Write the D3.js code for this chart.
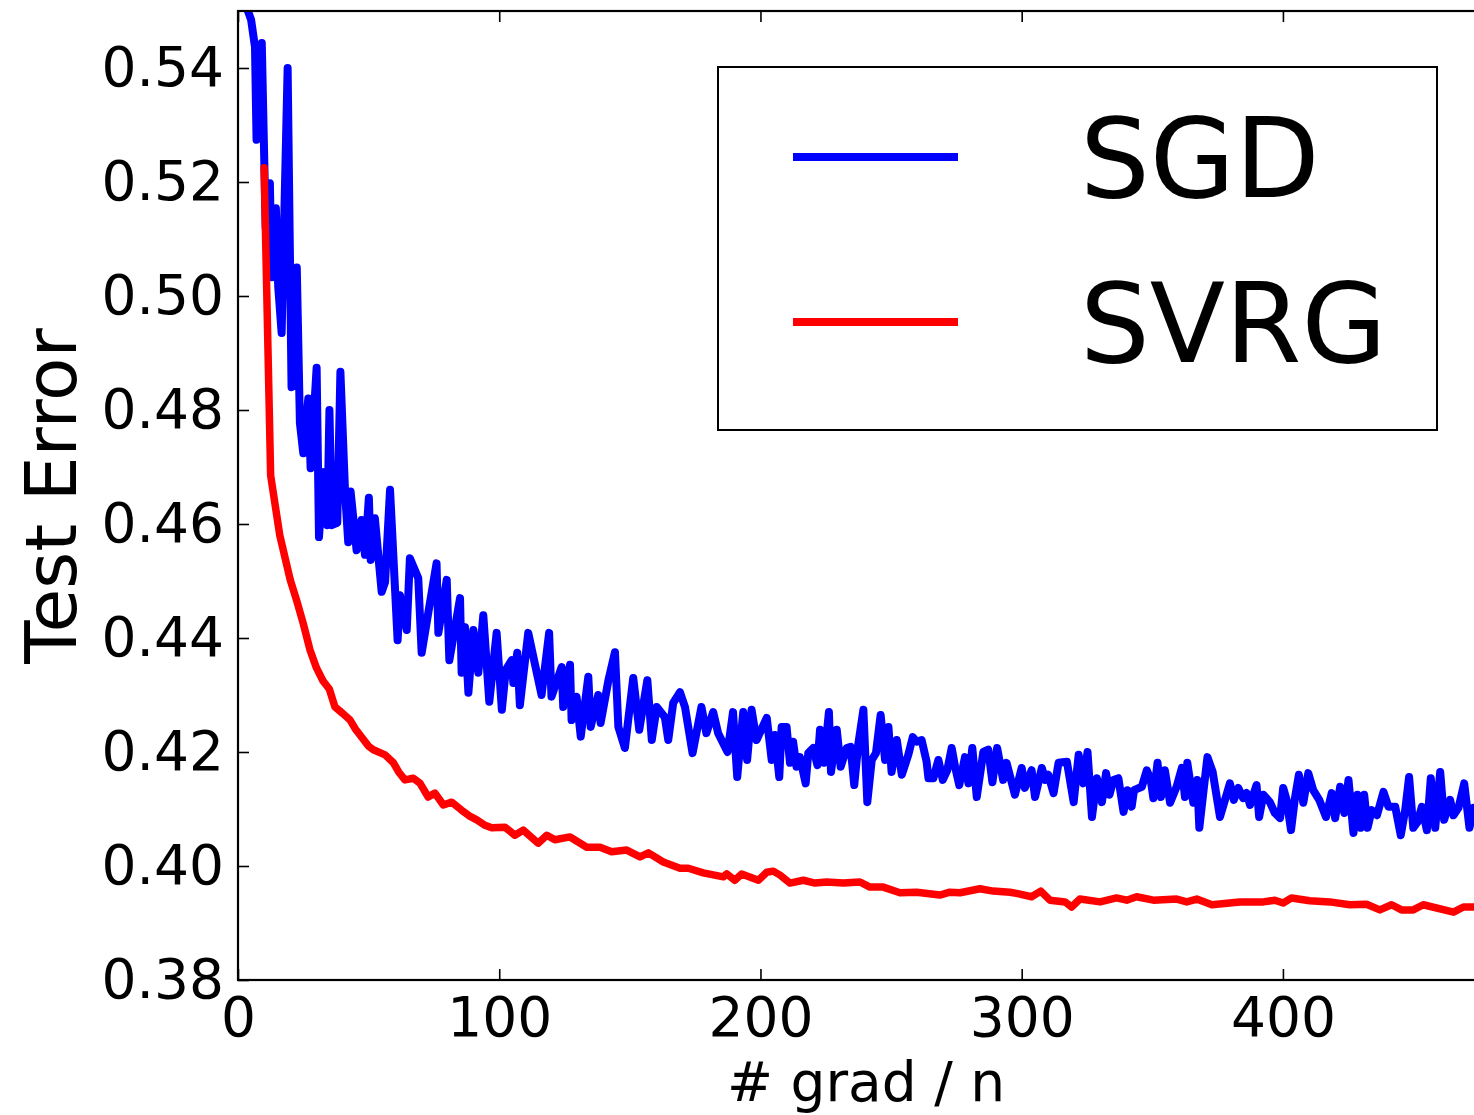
<!DOCTYPE html>
<html>
<head>
<meta charset="utf-8">
<script src="https://cdn.jsdelivr.net/npm/d3@7"></script>
<style>
  html, body { margin: 0; padding: 0; background: #ffffff; overflow: hidden; }
  svg { display: block; font-family: "DejaVu Sans", sans-serif; }
</style>
</head>
<body>
<svg id="chart" width="1474" height="1115"></svg>
<script>
// ---- data ----
const seriesNames = ["SGD", "SVRG"];
const seriesColors = ["#0000ff", "#ff0000"];

const sgdX = [0, 3, 5, 6.5, 7.1, 9.1, 10.6, 12.2, 12.9, 14.5, 15.4, 16.7, 19.0, 20.5, 22.5, 23.7, 25.0, 26.9, 27.8, 30.1,
  31.0, 32.7, 34.2, 35.0, 35.9, 38.0, 39.2, 41.0, 42.2, 43.1, 45.4, 47.3, 48.6, 50.1, 50.8, 52.4, 55.0, 56.3, 58.2, 61.1,
  62.0, 63.3, 64.6, 65.8, 69.0, 70.3, 72.9, 76.0, 76.7, 79.9, 80.9, 83.1, 85.0, 85.6, 86.9, 88.2, 90.1, 92.0, 93.9, 96.2,
  99.0, 101.0, 102.5, 104.8, 105.4, 106.9, 107.9, 111.1, 116.2, 119.1, 120.0, 123.9, 124.5, 127.1, 127.7, 129.6, 131.2, 134.1, 135.0, 137.9,
  138.8, 141.8, 144.3, 145.6, 148.1, 151.3, 153.6, 156.7, 158.4, 160.3, 163.4, 164.7, 166.6, 169.2, 171.1, 174.0, 177.4, 179.3, 181.9, 183.8,
  187.4, 189.5, 191.1, 193.4, 194.9, 196.6, 198.5, 202.4, 204.3, 205.5, 207.2, 208.1, 210.0, 211.3, 212.5, 213.8, 215.1, 217.3, 218.3, 220.2,
  221.8, 222.8, 224.3, 226.2, 227.0, 229.2, 230.7, 233.0, 234.5, 235.9, 237.4, 239.4, 240.9, 242.6, 244.2, 246.0, 247.7, 249.0, 250.2, 252.2,
  254.1, 256.6, 258.3, 259.8, 261.7, 263.6, 264.3, 266.2, 268.1, 269.8, 271.5, 273.2, 274.5, 276.1, 278.3, 279.6, 281.1, 282.8, 285.3, 287.2,
  288.8, 290.6, 292.9, 294.2, 297.4, 300.0, 301.2, 303.8, 305.1, 307.7, 309.0, 310.2, 312.2, 314.1, 317.3, 319.9, 321.8, 323.6, 325.2, 326.9,
  328.8, 330.7, 332.3, 333.6, 335.1, 337.0, 339.0, 340.5, 342.1, 343.0, 346.0, 347.9, 349.4, 350.4, 352.0, 353.3, 354.8, 356.8, 359.3, 361.3,
  362.5, 363.4, 365.7, 367.2, 368.0, 369.5, 371.1, 373.1, 375.9, 379.7, 381.2, 382.9, 384.8, 386.1, 387.4, 389.9, 390.9, 392.5, 395.0, 396.9,
  398.9, 400.1, 401.4, 403.1, 404.6, 406.1, 407.8, 409.7, 411.6, 413.9, 416.5, 418.7, 420.0, 421.9, 423.5, 425.1, 427.0, 428.5, 429.8, 431.1,
  432.4, 434.0, 436.0, 438.5, 440.4, 443.0, 445.1, 446.8, 448.3, 449.9, 451.5, 453.2, 455.1, 456.6, 458.3, 460.2, 461.7, 464.0, 465.3, 467.2,
  469.4, 471.4, 473.0, 474.5];
const sgdY = [0.575, 0.551, 0.5485, 0.5437, 0.5274, 0.5444, 0.512, 0.5198, 0.5033, 0.5154, 0.5016, 0.4935, 0.540, 0.484, 0.505, 0.4777, 0.4724, 0.482, 0.4698, 0.4874,
  0.4577, 0.4691, 0.4598, 0.480, 0.4598, 0.4602, 0.4867, 0.4654, 0.4568, 0.4657, 0.4554, 0.4607, 0.4546, 0.4646, 0.4537, 0.461, 0.4481, 0.4498, 0.466, 0.4396,
  0.4475, 0.4444, 0.4414, 0.454, 0.4505, 0.4374, 0.4446, 0.4531, 0.4409, 0.4502, 0.4361, 0.4419, 0.447, 0.4339, 0.4419, 0.4304, 0.4414, 0.4339, 0.444, 0.4288,
  0.4409, 0.4274, 0.4344, 0.4361, 0.4321, 0.4374, 0.4282, 0.4409, 0.430, 0.4409, 0.4297, 0.4349, 0.4279, 0.4353, 0.4256, 0.4297, 0.4227, 0.4332, 0.4244, 0.430,
  0.4251, 0.4326, 0.4375, 0.4244, 0.4207, 0.433, 0.4239, 0.4326, 0.4221, 0.4279, 0.4261, 0.4221, 0.4286, 0.4305, 0.4279, 0.4198, 0.4279, 0.4233, 0.427, 0.4233,
  0.420, 0.427, 0.4156, 0.427, 0.4186, 0.4274, 0.4221, 0.426, 0.4186, 0.423, 0.4156, 0.4244, 0.4244, 0.4181, 0.4218, 0.4174, 0.4191, 0.4145, 0.4198, 0.4207,
  0.4177, 0.4239, 0.4181, 0.427, 0.4165, 0.4239, 0.4174, 0.4207, 0.4209, 0.4142, 0.4212, 0.4274, 0.4112, 0.4186, 0.4198, 0.4265, 0.4186, 0.4244, 0.4165, 0.4221,
  0.416, 0.4195, 0.4226, 0.4218, 0.4221, 0.4183, 0.4154, 0.4154, 0.4186, 0.4151, 0.4168, 0.4207, 0.4174, 0.4142, 0.4191, 0.4145, 0.4207, 0.4121, 0.420, 0.4204,
  0.4147, 0.4207, 0.4151, 0.4181, 0.4125, 0.4172, 0.4137, 0.4168, 0.4121, 0.4172, 0.4151, 0.416, 0.4128, 0.4181, 0.4183, 0.4112, 0.4195, 0.4145, 0.420, 0.4086,
  0.4154, 0.4112, 0.4163, 0.4125, 0.4151, 0.4154, 0.4095, 0.4133, 0.4104, 0.4133, 0.4139, 0.4168, 0.4151, 0.4119, 0.4181, 0.4121, 0.4168, 0.4111, 0.4139, 0.4172,
  0.4121, 0.4181, 0.4111, 0.4151, 0.4067, 0.4128, 0.4191, 0.4165, 0.4086, 0.4145, 0.4116, 0.4137, 0.4119, 0.4128, 0.4107, 0.4142, 0.4086, 0.4125, 0.4112, 0.4093,
  0.4084, 0.4137, 0.4116, 0.4063, 0.4119, 0.416, 0.4111, 0.4163, 0.4133, 0.4116, 0.4086, 0.4128, 0.4084, 0.4139, 0.4093, 0.4151, 0.4058, 0.4125, 0.4067, 0.4125,
  0.4067, 0.4098, 0.4089, 0.413, 0.4104, 0.4104, 0.4054, 0.4098, 0.4156, 0.4067, 0.4077, 0.4104, 0.4063, 0.4154, 0.4067, 0.4165, 0.4081, 0.4116, 0.4089, 0.4102,
  0.4145, 0.4067, 0.4102, 0.4095];

const svrgX = [10.0, 12.5, 16.0, 20.0, 22.5, 25.0, 27.5, 30.0, 32.5, 35.0, 37.1, 40.0, 42.9, 45.0, 47.5, 50.0, 51.8, 56.3, 59.5, 61.5,
  63.9, 67.1, 69.7, 72.8, 75.4, 78.6, 81.8, 85.6, 88.5, 91.4, 94.3, 97.1, 102.2, 106.0, 109.2, 114.9, 118.2, 121.3, 127.1, 133.5,
  138.6, 143.0, 148.8, 153.9, 157.1, 162.8, 169.2, 172.4, 178.1, 185.8, 187.1, 190.2, 192.8, 199.2, 202.4, 204.9, 207.5, 211.3, 216.4, 220.9,
  225.3, 231.7, 238.1, 241.9, 247.0, 253.4, 259.8, 268.7, 272.5, 276.4, 284.0, 289.1, 295.5, 298.0, 303.8, 307.3, 310.8, 316.6, 319.1, 322.3,
  330.0, 336.3, 340.2, 344.0, 350.4, 359.3, 363.2, 367.0, 372.8, 383.5, 392.5, 396.9, 400.1, 403.3, 410.3, 417.9, 425.6, 432.0, 437.1, 441.6,
  445.4, 449.9, 453.7, 465.3, 469.1, 474.5];
const svrgY = [0.5225, 0.4685, 0.458, 0.4502, 0.4465, 0.4425, 0.438, 0.4348, 0.4325, 0.431, 0.4279, 0.4268, 0.4256, 0.424, 0.4225, 0.421, 0.4204, 0.4195, 0.4181, 0.4165,
  0.4151, 0.4154, 0.4145, 0.4121, 0.4128, 0.4107, 0.4112, 0.4098, 0.4088, 0.4081, 0.4072, 0.4067, 0.4068, 0.4054, 0.4063, 0.404, 0.4054, 0.4046, 0.4051, 0.4033,
  0.4033, 0.4025, 0.4028, 0.4016, 0.4023, 0.4007, 0.3996, 0.3996, 0.3988, 0.3981, 0.3986, 0.3975, 0.3986, 0.3975, 0.3989, 0.3991, 0.3984, 0.397, 0.3975, 0.397,
  0.3972, 0.397, 0.3972, 0.3963, 0.3963, 0.3953, 0.3954, 0.3949, 0.3954, 0.3953, 0.396, 0.3956, 0.3954, 0.3952, 0.3946, 0.3956, 0.394, 0.3937, 0.3928, 0.3942,
  0.3937, 0.3944, 0.394, 0.3946, 0.394, 0.3942, 0.3937, 0.3942, 0.3932, 0.3937, 0.3937, 0.394, 0.3935, 0.3944, 0.3939, 0.3937, 0.3932, 0.3933, 0.3923, 0.3932,
  0.3923, 0.3923, 0.3932, 0.3919, 0.3928, 0.3928];

const xTicks = [0, 100, 200, 300, 400];
const yTicks = [0.38, 0.40, 0.42, 0.44, 0.46, 0.48, 0.50, 0.52, 0.54];
const xDomain = [0, 480.8];
const yDomain = [0.38, 0.55];
const xLabel = "# grad / n";
const yLabel = "Test Error";

// ---- drawing ----
(function () {
const svg = d3.select("#chart");
svg.append("rect").attr("width", 1474).attr("height", 1115).attr("fill", "#ffffff");

const pL = 238, pR = 1494, pT = 11, pB = 980;
const x = d3.scaleLinear().domain(xDomain).range([pL, pR]);
const y = d3.scaleLinear().domain(yDomain).range([pB, pT]);

svg.append("defs").append("clipPath").attr("id", "plotclip")
  .append("rect").attr("x", pL).attr("y", pT).attr("width", pR - pL).attr("height", pB - pT);

const series = [
  { name: seriesNames[0], color: seriesColors[0], xs: sgdX, ys: sgdY, w: 8 },
  { name: seriesNames[1], color: seriesColors[1], xs: svrgX, ys: svrgY, w: 7.5 }
];

const line = d3.line().x(d => x(d[0])).y(d => y(d[1]));
const plot = svg.append("g").attr("clip-path", "url(#plotclip)");
series.forEach(s => {
  const pts = s.xs.map((v, i) => [v, s.ys[i]]);
  plot.append("path").datum(pts)
    .attr("d", line)
    .attr("fill", "none")
    .attr("stroke", s.color)
    .attr("stroke-width", s.w)
    .attr("stroke-linejoin", "round")
    .attr("stroke-linecap", "round");
});

// axes with inward ticks (classic style)
const fmtY = d3.format(".2f");
const yAxis = d3.axisLeft(y).tickValues(yTicks).tickFormat(fmtY).tickSize(-11).tickPadding(14);
const yAxisR = d3.axisRight(y).tickValues(yTicks).tickFormat("").tickSize(-11);
const xAxis = d3.axisBottom(x).tickValues(xTicks).tickFormat(d3.format("d")).tickSize(-11).tickPadding(16.7);
const xAxisT = d3.axisTop(x).tickValues(xTicks).tickFormat("").tickSize(-11);

function style(g) {
  g.select(".domain").remove();
  g.selectAll(".tick line").attr("stroke", "#000").attr("stroke-width", 1.6);
  g.selectAll(".tick text").attr("fill", "#000").attr("font-size", 55).attr("font-family", "DejaVu Sans");
}
svg.append("g").attr("transform", `translate(${pL},0)`).call(yAxis).call(style);
svg.append("g").attr("transform", `translate(${pR},0)`).call(yAxisR).call(style);
svg.append("g").attr("transform", `translate(0,${pB})`).call(xAxis).call(style);
svg.append("g").attr("transform", `translate(0,${pT})`).call(xAxisT).call(style);

// spines
svg.append("rect").attr("x", pL).attr("y", pT).attr("width", pR - pL).attr("height", pB - pT)
  .attr("fill", "none").attr("stroke", "#000").attr("stroke-width", 2.2);

// axis labels
svg.append("text").attr("x", 866).attr("y", 1101).attr("text-anchor", "middle")
  .attr("font-size", 55).attr("fill", "#000").text(xLabel);
svg.append("text").attr("transform", "translate(76,496) rotate(-90)").attr("text-anchor", "middle")
  .attr("font-size", 71).attr("fill", "#000").text(yLabel);

// legend
const lg = svg.append("g");
lg.append("rect").attr("x", 718).attr("y", 67).attr("width", 719).attr("height", 363)
  .attr("fill", "#fff").attr("stroke", "#000").attr("stroke-width", 2);
const legendRows = [157, 322];
series.forEach((s, i) => {
  lg.append("line").attr("x1", 793).attr("x2", 958).attr("y1", legendRows[i]).attr("y2", legendRows[i])
    .attr("stroke", s.color).attr("stroke-width", 8);
  lg.append("text").attr("x", 1080).attr("y", legendRows[i] + 40)
    .attr("font-size", 110).attr("fill", "#000").text(s.name);
});
})();
</script>
</body>
</html>
